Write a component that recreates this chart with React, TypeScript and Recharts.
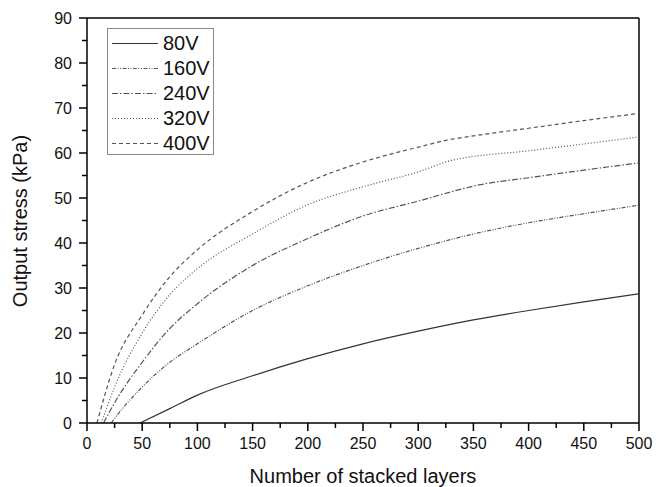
import { LineChart, Line, XAxis, YAxis, Legend, ReferenceLine } from 'recharts'

// layers / stress (kPa), per drive voltage
const layers80 = [48, 75, 100, 150, 200, 250, 300, 350, 400, 450, 500]
const stress80 = [0, 3.2, 6.2, 10.5, 14.3, 17.6, 20.4, 22.9, 25, 26.9, 28.7]

const layers160 = [22, 25, 50, 75, 100, 150, 200, 250, 300, 350, 400, 450, 500]
const stress160 = [0, 1, 8, 13.5, 17.6, 25, 30.5, 35, 38.8, 42, 44.5, 46.5, 48.4]

const layers240 = [15, 25, 50, 75, 100, 150, 200, 250, 300, 355, 400, 450, 500]
const stress240 = [0, 4.5, 13.5, 21, 26.5, 35, 41, 46, 49.3, 52.9, 54.5, 56.2, 57.8]

const layers320 = [13, 25, 50, 75, 100, 150, 200, 250, 300, 328, 400, 450, 500]
const stress320 = [0, 8, 20, 28.5, 34.3, 42, 48.5, 52.5, 55.8, 58.2, 60.5, 62, 63.6]

const layers400 = [9, 25, 50, 75, 100, 150, 200, 250, 300, 325, 350, 400, 450, 500]
const stress400 = [0, 13, 24, 32.5, 38.5, 47, 53.5, 58, 61.3, 62.8, 63.8, 65.5, 67.2, 68.8]

const xTicks = [0, 25, 50, 75, 100, 125, 150, 175, 200, 225, 250, 275, 300, 325, 350, 375, 400, 425, 450, 475, 500]
const yTicks = [0, 5, 10, 15, 20, 25, 30, 35, 40, 45, 50, 55, 60, 65, 70, 75, 80, 85, 90]

const FONT = '"Liberation Sans", Arial, sans-serif'

const toPoints = (xs: number[], ys: number[]) => xs.map((x, i) => ({ x, y: ys[i] }))

const series = [
  { name: '80V', data: toPoints(layers80, stress80), dash: undefined, color: '#333' },
  { name: '160V', data: toPoints(layers160, stress160), dash: '4 1.5 1 1.5 1 1.5', color: '#555' },
  { name: '240V', data: toPoints(layers240, stress240), dash: '6 2 1.5 2', color: '#555' },
  { name: '320V', data: toPoints(layers320, stress320), dash: '1 2', color: '#555' },
  { name: '400V', data: toPoints(layers400, stress400), dash: '4 3', color: '#555' },
]

function XTick({ x, y, payload }: any) {
  const major = payload.value % 50 === 0
  return (
    <g>
      <line x1={x} x2={x} y1={y} y2={y + (major ? 8 : 5)} stroke="#000" strokeWidth={1.5} />
      {major && (
        <text x={x} y={y + 15} dy="0.71em" textAnchor="middle" fontSize={16} fill="#111" fontFamily={FONT}>
          {payload.value}
        </text>
      )}
    </g>
  )
}

function YTick({ x, y, payload }: any) {
  const major = payload.value % 10 === 0
  return (
    <g>
      <line x1={x - (major ? 8 : 5)} x2={x} y1={y} y2={y} stroke="#000" strokeWidth={1.5} />
      {major && (
        <text x={x - 15} y={y} dy="0.355em" textAnchor="end" fontSize={16} fill="#111" fontFamily={FONT}>
          {payload.value}
        </text>
      )}
    </g>
  )
}

function LegendBox() {
  return (
    <div
      style={{
        border: '1px solid #888',
        background: '#fff',
        boxSizing: 'border-box',
        width: 107,
        height: 127,
        padding: '2px 0 0 4px',
        fontFamily: FONT,
        fontSize: 20,
        color: '#111',
      }}
    >
      {series.map((s) => (
        <div key={s.name} style={{ display: 'flex', alignItems: 'center', height: 25 }}>
          <svg width={46} height={25} style={{ display: 'block' }}>
            <line x1={0} x2={46} y1={12.5} y2={12.5} stroke={s.color} strokeWidth={1} strokeDasharray={s.dash} />
          </svg>
          <span style={{ marginLeft: 5, lineHeight: '25px' }}>{s.name}</span>
        </div>
      ))}
    </div>
  )
}

export default function App() {
  return (
    <div style={{ position: 'absolute', left: 0, top: 0, background: '#fff' }}>
      <LineChart width={656} height={487} margin={{ top: 18, right: 17, bottom: 0, left: 0 }}>
        <XAxis
          dataKey="x"
          type="number"
          domain={[0, 500]}
          ticks={xTicks}
          interval={0}
          tickSize={0}
          tickMargin={0}
          tick={<XTick />}
          height={64}
          axisLine={{ stroke: '#000', strokeWidth: 1.5 }}
          label={{
            content: () => (
              <text x={363} y={483} textAnchor="middle" fontSize={20} fill="#111" fontFamily={FONT}>
                Number of stacked layers
              </text>
            ),
          }}
        />
        <YAxis
          type="number"
          domain={[0, 90]}
          ticks={yTicks}
          interval={0}
          tickSize={0}
          tickMargin={0}
          tick={<YTick />}
          width={87}
          axisLine={{ stroke: '#000', strokeWidth: 1.5 }}
          label={{
            content: () => (
              <text
                x={20}
                y={221}
                dy="0.355em"
                transform="rotate(-90 20 221)"
                textAnchor="middle"
                fontSize={20}
                fill="#111"
                fontFamily={FONT}
              >
                Output stress (kPa)
              </text>
            ),
          }}
        />
        <ReferenceLine y={90} stroke="#000" strokeWidth={1.5} />
        <ReferenceLine x={500} stroke="#000" strokeWidth={1.5} />
        {series.map((s) => (
          <Line
            key={s.name}
            data={s.data}
            dataKey="y"
            name={s.name}
            type="monotone"
            stroke={s.color}
            strokeWidth={1.2}
            strokeDasharray={s.dash}
            dot={false}
            activeDot={false}
            isAnimationActive={false}
          />
        ))}
        <Legend
          layout="vertical"
          align="center"
          verticalAlign="middle"
          content={() => <LegendBox />}
          wrapperStyle={{ position: 'absolute', left: 107, top: 28, width: 107, height: 127 }}
        />
      </LineChart>
    </div>
  )
}
